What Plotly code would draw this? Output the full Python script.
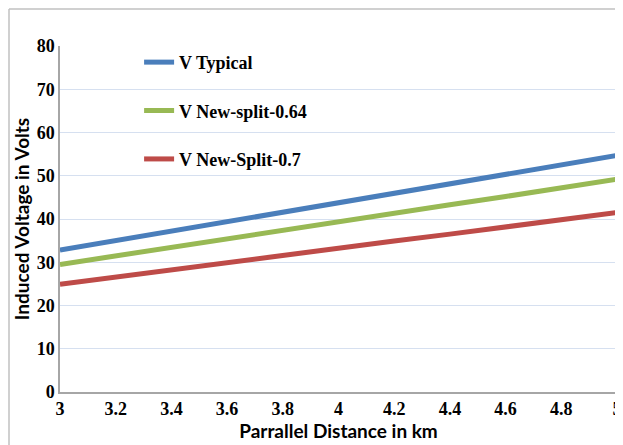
import plotly.graph_objects as go

distance_km = [3.0, 3.2, 3.4, 3.6, 3.8, 4.0, 4.2, 4.4, 4.6, 4.8, 5.0]
v_typical = [32.8, 35.0, 37.2, 39.4, 41.5, 43.7, 45.9, 48.1, 50.3, 52.5, 54.7]
v_split_064 = [29.5, 31.5, 33.4, 35.4, 37.4, 39.3, 41.3, 43.3, 45.2, 47.2, 49.2]
v_split_07 = [24.9, 26.6, 28.2, 29.9, 31.5, 33.2, 34.9, 36.5, 38.2, 39.8, 41.5]
x_ticks = [3, 3.2, 3.4, 3.6, 3.8, 4, 4.2, 4.4, 4.6, 4.8, 5]
x_tick_text = ["3", "3.2", "3.4", "3.6", "3.8", "4", "4.2", "4.4", "4.6", "4.8", "5"]
y_ticks = [0, 10, 20, 30, 40, 50, 60, 70, 80]

series = [
    ("V Typical", v_typical, "#4a7ebb"),
    ("V New-split-0.64", v_split_064, "#98b954"),
    ("V New-Split-0.7", v_split_07, "#be4b48"),
]

fig = go.Figure()
for i, (name, vals, col) in enumerate(series):
    fig.add_trace(go.Scatter(x=distance_km, y=vals, mode="lines", name=name,
                             legendgroup=f"g{i}",
                             line=dict(color=col, width=5)))

# page has an 8px body margin, so the figure is offset by 8px
fig.update_layout(
    width=615, height=437,
    margin=dict(l=52, r=6, t=38, b=53, autoexpand=False),
    paper_bgcolor="white", plot_bgcolor="white",
    showlegend=True,
    legend=dict(x=0.142, y=1.006, xanchor="left", yanchor="top",
                bgcolor="rgba(0,0,0,0)", tracegroupgap=22,
                font=dict(family="Liberation Serif", size=18, color="#000000", weight="bold")),
    xaxis=dict(range=[3, 5], tickvals=x_ticks, ticktext=x_tick_text,
               showgrid=False, showline=True, linecolor="#a6a6a6", linewidth=1.5,
               ticks="", zeroline=False, automargin=False,
               tickfont=dict(family="Liberation Serif", size=18, color="#000000", weight="bold"),
               title=dict(text="Parrallel Distance in km", standoff=6,
                          font=dict(family="Lato", size=19, color="#000000", weight="bold"))),
    yaxis=dict(range=[0, 80], tickvals=y_ticks,
               showgrid=True, gridcolor="#d6e0f0", gridwidth=1,
               showline=True, linecolor="#a6a6a6", linewidth=1.5,
               ticks="", zeroline=False, automargin=False,
               tickfont=dict(family="Liberation Serif", size=18, color="#000000", weight="bold"),
               title=dict(text="Induced Voltage in Volts", standoff=2,
                          font=dict(family="Lato", size=19, color="#000000", weight="bold"))),
)
fig.add_shape(type="line", xref="paper", yref="paper",
              x0=-51/557, x1=-51/557, y0=-60/346, y1=1 + 37/346,
              line=dict(color="#c0c0c0", width=1.5))
fig.add_shape(type="line", xref="paper", yref="paper",
              x0=-51/557, x1=1.02, y0=1 + 37/346, y1=1 + 37/346,
              line=dict(color="#c0c0c0", width=1.5))
fig.write_html("out.html")
